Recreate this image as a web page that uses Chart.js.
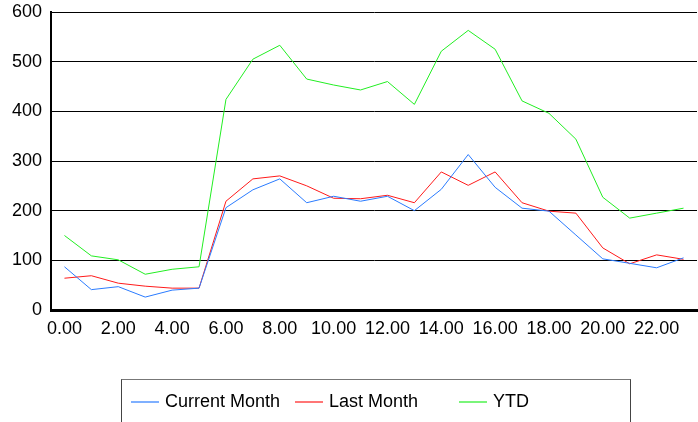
<!DOCTYPE html>
<html>
<head>
<meta charset="utf-8">
<script src="https://cdn.jsdelivr.net/npm/chart.js@4.4.1/dist/chart.umd.min.js"></script>
<style>
  body { margin: 0; background: #fff; }
  #wrap { position: relative; width: 698px; height: 422px; overflow: hidden; }
  #legendBox {
    position: absolute; left: 121px; top: 379px; width: 510px; height: 60px;
    border: 1px solid #444; border-top-color: #777; box-sizing: border-box;
    font-family: "Liberation Sans", Arial, sans-serif; font-size: 18px; color: #000;
  }
  .item { position: absolute; top: 10px; height: 22px; line-height: 22px; white-space: nowrap; }
  .item span.ln { display: inline-block; width: 28px; height: 2px; vertical-align: middle; margin-right: 6px; opacity: 0.6; }
</style>
</head>
<body>
<div id="wrap">
  <canvas id="chart" width="698" height="422"></canvas>
  <div id="legendBox"></div>
</div>
<script>
// hora del dia
const hours = ['0.00','1.00','2.00','3.00','4.00','5.00','6.00','7.00','8.00','9.00','10.00','11.00',
               '12.00','13.00','14.00','15.00','16.00','17.00','18.00','19.00','20.00','21.00','22.00','23.00'];

const currentMonth = [87, 41, 47, 26, 40, 44, 206, 242, 264, 216, 229, 219,
                      229, 200, 243, 313, 247, 205, 199, 151, 103, 94, 85, 105];
const lastMonth    = [64, 69, 54, 48, 44, 44, 219, 264, 270, 250, 225, 224,
                      231, 216, 278, 251, 278, 216, 199, 195, 125, 93, 111, 102];
const ytd          = [150, 109, 101, 72, 82, 87, 424, 505, 533, 465, 453, 443,
                      460, 414, 521, 563, 525, 421, 396, 344, 227, 185, 195, 205];

const seriesNames = ['Current Month', 'Last Month', 'YTD'];
const seriesColors = ['#2a7bff', '#ff1a1a', '#22ee22'];
const yTicks = [0, 100, 200, 300, 400, 500, 600];

const font = { family: '"Liberation Sans", Arial, sans-serif', size: 18 };

const ctx = document.getElementById('chart').getContext('2d');
const myChart = new Chart(ctx, {
    type: 'line',
    data: {
        labels: hours,
        datasets: [currentMonth, lastMonth, ytd].map((d, i) => ({
            label: seriesNames[i],
            data: d,
            borderColor: seriesColors[i],
            backgroundColor: seriesColors[i],
            borderWidth: 1,
            pointRadius: 0,
            tension: 0,
            fill: false
        }))
    },
    options: {
        responsive: false,
        animation: false,
        layout: { padding: { left: 0, top: 12, right: 1, bottom: 72 } },
        plugins: { legend: { display: false }, tooltip: { enabled: false } },
        scales: {
            x: {
                offset: true,
                grid: { display: false, drawTicks: false },
                border: { display: true, color: '#000', width: 3 },
                ticks: {
                    autoSkip: false, maxRotation: 0, color: '#000', font: font, padding: 8,
                    callback: function (v, i) { return i % 2 === 0 ? hours[i] : ''; }
                },
                afterFit: function (axis) { axis.height = 40; axis.paddingLeft = 0; axis.paddingRight = 0; }
            },
            y: {
                min: 0, max: 600,
                afterBuildTicks: function (axis) { axis.ticks = yTicks.map(v => ({ value: v })); },
                grid: { color: '#000', lineWidth: 1, drawTicks: false },
                border: { display: true, color: '#000', width: 2 },
                ticks: { color: '#000', font: font, padding: 9 },
                // sin relleno extra arriba/abajo, el area empieza en y=12
                afterFit: function (axis) { axis.width = 51; axis.paddingTop = 0; axis.paddingBottom = 0; }
            }
        }
    }
});

// leyenda en html, columnas de 164px
const legendBox = document.getElementById('legendBox');
seriesNames.forEach((name, i) => {
    const item = document.createElement('div');
    item.className = 'item';
    item.style.left = (9 + i * 164) + 'px';
    item.innerHTML = '<span class="ln" style="background:' + seriesColors[i] + '"></span>' + name;
    legendBox.appendChild(item);
});
</script>
</body>
</html>
